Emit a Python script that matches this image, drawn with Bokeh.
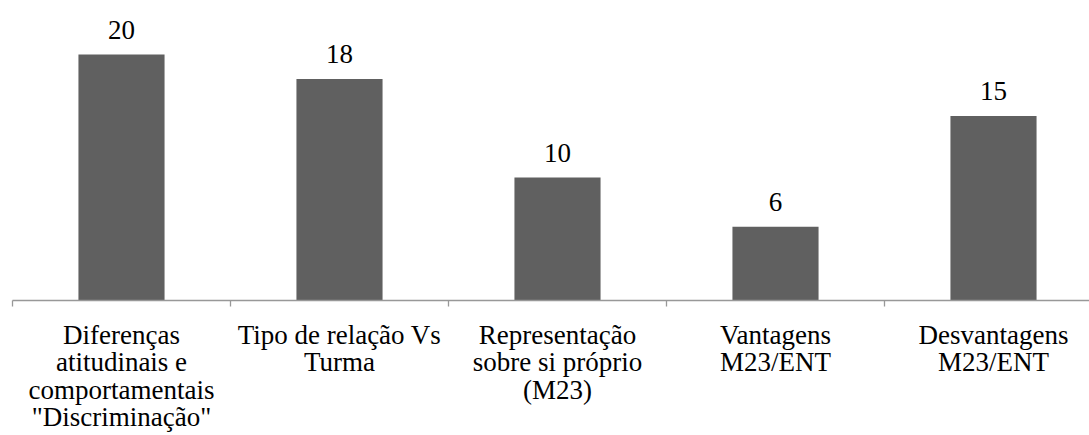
from bokeh.plotting import figure
from bokeh.models import ColumnDataSource, Range1d, FixedTicker
from bokeh.core.properties import value
from bokeh.embed import file_html
from bokeh.resources import INLINE

categories = [
    "Diferenças\natitudinais e\ncomportamentais\n\"Discriminação\"",
    "Tipo de relação Vs\nTurma",
    "Representação\nsobre si próprio\n(M23)",
    "Vantagens\nM23/ENT",
    "Desvantagens\nM23/ENT",
]
values = [20, 18, 10, 6, 15]

n = len(categories)
xs = [i + 0.5 for i in range(n)]

bar_src = ColumnDataSource(dict(x=xs, top=values, label=[str(v) for v in values]))

lx, ly, lt, lo = [], [], [], []
line_gap = 27.5
for i, cat in enumerate(categories):
    for j, line in enumerate(cat.split("\n")):
        lx.append(xs[i])
        ly.append(0)
        lt.append(line)
        lo.append(34 + line_gap * j)
cat_src = ColumnDataSource(dict(x=lx, y=ly, text=lt, off=lo))

W, H = 1089, 435
px_x = 218.0
px_y = 12.3
left_px, base_px = 12, 300
p = figure(width=W, height=H, output_backend="svg", toolbar_location=None,
           x_range=Range1d(-left_px / px_x, (W - left_px) / px_x),
           y_range=Range1d(-(H - base_px) / px_y, base_px / px_y),
           min_border_left=0, min_border_right=0, min_border_top=0,
           min_border_bottom=0)
p.outline_line_color = None
p.xgrid.visible = False
p.ygrid.visible = False
p.yaxis.visible = False
p.background_fill_color = "white"
p.border_fill_color = "white"

p.vbar(x="x", top="top", bottom=0, width=0.395, source=bar_src,
       fill_color="#606060", line_color=None)

ax = p.xaxis[0]
ax.fixed_location = 0
ax.bounds = (0, n)
ax.ticker = FixedTicker(ticks=list(range(n + 1)))
ax.axis_line_color = "#989898"
ax.axis_line_width = 1.3
ax.major_tick_line_color = "#989898"
ax.major_tick_line_width = 1.3
ax.major_tick_in = 0
ax.major_tick_out = 6
ax.minor_tick_line_color = None
ax.major_label_text_color = None
ax.major_label_text_font_size = "1px"
ax.major_label_standoff = 0

p.text(x="x", y="top", text="label", source=bar_src, y_offset=-25,
       text_align="center", text_baseline="alphabetic",
       text_font=value("Liberation Serif"), text_font_size="27px",
       text_color="black")

p.text(x="x", y="y", text="text", source=cat_src, y_offset="off",
       text_align="center", text_baseline="alphabetic",
       text_font=value("Liberation Serif"), text_font_size="27px",
       text_color="black")

open("out.html", "w").write(file_html(p, INLINE))
